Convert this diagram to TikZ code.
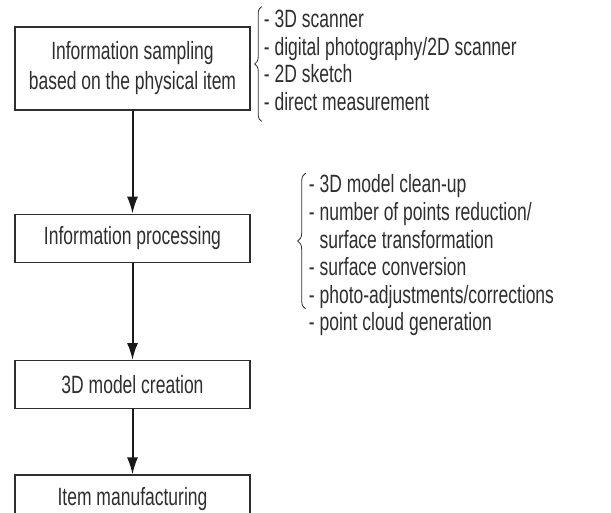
\documentclass[tikz,border=0pt]{standalone}
\usepackage{fontspec}
\setmainfont{Liberation Sans}[FakeStretch=0.70]
\usepackage{tikz}
\usetikzlibrary{positioning,calc,arrows.meta,decorations.pathreplacing}
\definecolor{ink}{HTML}{2E2E2E}
\tikzstyle{stage}=[rectangle,draw=ink,line width=1.4pt,text=ink,minimum width=235pt,minimum height=48pt,inner sep=0pt,align=center,font=\fontsize{25}{30}\selectfont]
\tikzstyle{notes}=[inner sep=0pt,align=left,text=ink,font=\fontsize{25}{27.6}\selectfont]
\tikzstyle{flow}=[draw=black!90,line width=2pt,-{Latex[length=17pt,width=11pt]}]
\tikzstyle{curly}=[draw=ink,line width=0.8pt,decorate,decoration={brace,amplitude=7pt}]

\begin{document}
\begin{tikzpicture}[x=1pt,y=1pt]
        \useasboundingbox (0,0) rectangle (611,513);
        \node[stage,minimum height=83pt] (sampling) at (132.5,444.5) {Information sampling\\based on the physical item};
        \node[stage,below=103pt of sampling] (processing) {Information processing};
        \node[stage,below=97pt of processing] (modelling) {3D model creation};
        \node[stage,below=65pt of modelling] (making) {Item manufacturing};
        \draw[flow] (sampling) -- (processing);
        \draw[flow] (processing) -- (modelling);
        \draw[flow] (modelling) -- (making);
        % side notes
        \node[notes,right=13pt of sampling,yshift=8pt] (scanlist) {- 3D scanner\\- digital photography/2D scanner\\- 2D sketch\\- direct measurement};
        \node[notes,right=58pt of processing,yshift=-17pt] (proclist) {- 3D model clean-up\\- number of points reduction/\\\phantom{- }surface transformation\\- surface conversion\\- photo-adjustments/corrections\\- point cloud generation};
        \coordinate (scantop) at ($(scanlist.north west)+(-2pt,3.5pt)$);
        \coordinate (scanbot) at ($(scanlist.south west)+(-2pt,-10.5pt)$);
        \coordinate (proctop) at ($(proclist.north west)+(-3pt,1.5pt)$);
        \coordinate (procbot) at ($(proctop)+(0,-136pt)$);
        \draw[curly] (scanbot) -- (scantop);
        \draw[curly,decoration={amplitude=8pt}] (procbot) -- (proctop);
\end{tikzpicture}
\end{document}
